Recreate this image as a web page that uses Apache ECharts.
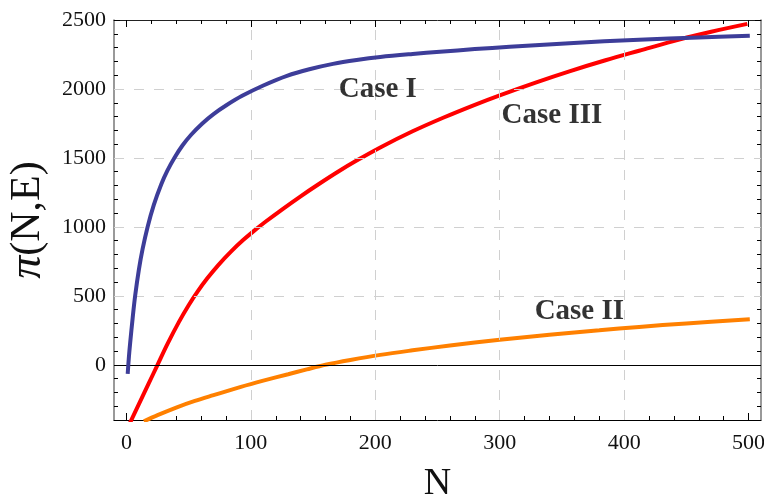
<!DOCTYPE html>
<html>
<head>
<meta charset="utf-8">
<script src="https://cdn.jsdelivr.net/npm/echarts@6/dist/echarts.min.js"></script>
<style>
  html, body { margin: 0; padding: 0; background: #fff; }
  #chart { width: 764px; height: 499px; }
</style>
</head>
<body>
<div id="chart"></div>
<script>
// values: [N, pi(N,E)]
const caseOne = [
    [1, -65], [2, 60], [3, 160], [5, 340], [7, 500], [10, 690], [13, 840], [17, 1000],
    [22, 1160], [28, 1310], [33, 1410], [38.5, 1500], [45, 1590], [52, 1668], [61, 1750],
    [70, 1818], [80, 1880], [93, 1950], [110, 2025], [129, 2095], [147, 2143], [166, 2182],
    [185, 2210], [204, 2232], [230, 2254], [252, 2270], [280, 2289], [308, 2306],
    [356, 2332], [412, 2357], [460, 2373], [501, 2386]
];
const caseTwo = [
    [14, -410], [25, -365], [40, -310], [55, -262], [70, -220], [92, -160], [110, -115],
    [130, -68], [145, -33], [160, 0], [180, 35], [204, 72], [230, 105], [260, 140],
    [300, 182], [340, 218], [380, 250], [412, 275], [450, 300], [501, 331]
];
const caseThree = [
    [1, -456], [10, -285], [18, -133], [25, 0], [33, 152], [42, 308], [50, 432], [57, 529],
    [65, 627], [74, 725], [84, 821], [94, 906], [103, 975], [112, 1039], [125, 1126],
    [140, 1222], [155, 1313], [170, 1400], [185, 1481], [204, 1576], [230, 1693],
    [255, 1793], [280, 1885], [300, 1954], [330, 2050], [356, 2128], [385, 2208],
    [412, 2277], [445, 2360], [470, 2415], [499, 2472]
];
const labelText = ['Case I', 'Case III', 'Case II'];
const labelN = [202, 342, 364];
const labelV = [1993, 1808, 386];

const xMajor = [0, 100, 200, 300, 400, 500];
const xMinor = [20, 40, 60, 80, 120, 140, 160, 180, 220, 240, 260, 280, 320, 340, 360, 380, 420, 440, 460, 480];
const yMajor = [0, 500, 1000, 1500, 2000, 2500];
const yMinor = [-300, -200, -100, 100, 200, 300, 400, 600, 700, 800, 900, 1100, 1200, 1300, 1400,
    1600, 1700, 1800, 1900, 2100, 2200, 2300, 2400];
const xGrid = [100, 200, 300, 400];
const yGrid = [500, 1000, 1500, 2000];

const SERIF = 'Liberation Serif';
const chart = echarts.init(document.getElementById('chart'));

function xAxisOf(position, ticks, len, withLabels, lineColor) {
    return {
        type: 'value', position: position, min: -10, max: 510,
        axisLine: { show: !!lineColor, onZero: false, lineStyle: { color: lineColor, width: 1 } },
        axisTick: { show: true, inside: true, length: len, customValues: ticks, lineStyle: { color: '#000', width: 1 } },
        axisLabel: withLabels ? {
            show: true, customValues: ticks, margin: 12, color: '#111',
            fontFamily: SERIF, fontSize: 22, formatter: v => String(v)
        } : { show: false },
        splitLine: { show: false }
    };
}
function yAxisOf(position, ticks, len, withLabels, lineColor) {
    return {
        type: 'value', position: position, min: -400, max: 2500,
        axisLine: { show: !!lineColor, onZero: false, lineStyle: { color: lineColor, width: 1.5 } },
        axisTick: { show: true, inside: true, length: len, customValues: ticks, lineStyle: { color: '#000', width: 1 } },
        axisLabel: withLabels ? {
            show: true, customValues: ticks, margin: 8, color: '#111',
            fontFamily: SERIF, fontSize: 22, formatter: v => String(v)
        } : { show: false },
        splitLine: { show: false }
    };
}

const xMain = xAxisOf('bottom', xMajor, 7, true, '#000');
xMain.name = 'N';
xMain.nameLocation = 'middle';
xMain.nameGap = 45;
xMain.nameTextStyle = { fontFamily: SERIF, fontSize: 38, color: '#111' };

const yMain = yAxisOf('left', yMajor, 6, true, '#777');
yMain.name = '{i|π}(N,E)';
yMain.nameLocation = 'middle';
yMain.nameGap = 63;
yMain.nameRotate = 90;
yMain.nameTextStyle = {
    fontFamily: SERIF, fontSize: 42, color: '#111',
    rich: { i: { fontFamily: SERIF, fontSize: 46, fontStyle: 'italic', color: '#111' } }
};

const lineBase = { type: 'line', showSymbol: false, smooth: 0.35 };

let option = {
    animation: false,
    backgroundColor: '#fff',
    grid: { left: 114, right: 3, top: 20, bottom: 79, containLabel: false, outerBoundsMode: 'none' },
    xAxis: [
        xMain,
        xAxisOf('bottom', xMinor, 4, false, null),
        xAxisOf('top', xMajor, 7, false, '#222'),
        xAxisOf('top', xMinor, 4, false, null)
    ],
    yAxis: [
        yMain,
        yAxisOf('left', yMinor, 4, false, null),
        yAxisOf('right', yMajor, 6, false, '#777'),
        yAxisOf('right', yMinor, 4, false, null)
    ],
    series: [
        {
            name: 'grid',
            type: 'line',
            data: [],
            silent: true,
            markLine: {
                silent: true,
                symbol: 'none',
                label: { show: false },
                lineStyle: { color: '#d0d0d0', width: 1, type: [10, 10] },
                data: xGrid.map(v => ({ xAxis: v })).concat(yGrid.map(v => ({ yAxis: v })))
                    .concat([{ yAxis: 0, lineStyle: { color: '#000', type: 'solid', width: 1 } }])
            }
        },
        Object.assign({}, lineBase, {
            name: 'Case II', data: caseTwo, z: 3,
            lineStyle: { color: '#ff8000', width: 4 }
        }),
        Object.assign({}, lineBase, {
            name: 'Case III', data: caseThree, z: 4,
            lineStyle: { color: '#ff0000', width: 4 }
        }),
        Object.assign({}, lineBase, {
            name: 'Case I', data: caseOne, z: 5,
            lineStyle: { color: '#3d3d99', width: 4 }
        }),
        {
            name: 'labels', type: 'scatter', symbolSize: 0, z: 6,
            data: labelText.map((t, i) => [labelN[i], labelV[i], t]),
            label: {
                show: true, position: 'inside', formatter: p => p.value[2],
                fontFamily: SERIF, fontWeight: 'bold', fontSize: 29, color: '#000'
            }
        }
    ]
};
chart.setOption(option);

window.addEventListener('resize', function () {
    chart.resize();
});
</script>
</body>
</html>
